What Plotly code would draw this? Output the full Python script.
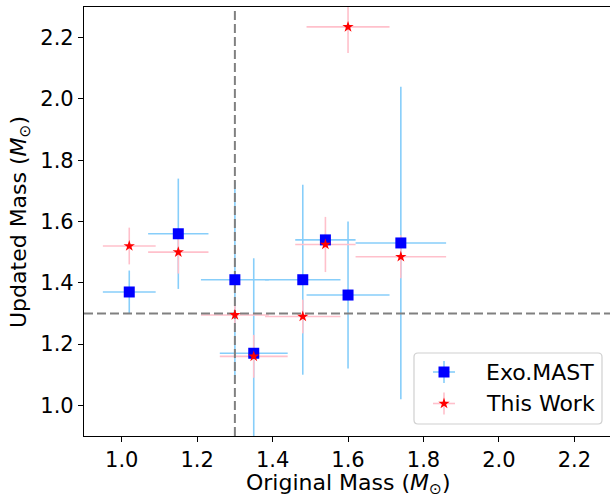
import plotly.graph_objects as go

# ---- data ----
orig_mass = [1.02, 1.15, 1.30, 1.35, 1.48, 1.54, 1.60, 1.74]
orig_mass_err = [0.07, 0.08, 0.09, 0.09, 0.10, 0.08, 0.11, 0.12]
exomast_mass = [1.37, 1.56, 1.41, 1.17, 1.41, 1.54, 1.36, 1.53]
exomast_err = [0.07, 0.18, 0.32, 0.31, 0.31, 0.02, 0.24, 0.51]
thiswork_mass = [1.52, 1.50, 1.295, 1.16, 1.29, 1.525, 2.235, 1.485]
thiswork_err = [0.06, 0.07, 0.04, 0.07, 0.055, 0.09, 0.085, 0.07]
mass_cut = 1.3
x_range = [0.9, 2.2945]
y_range = [0.9, 2.3]
tick_vals = [1.0, 1.2, 1.4, 1.6, 1.8, 2.0, 2.2]
tick_text = ["1.0", "1.2", "1.4", "1.6", "1.8", "2.0", "2.2"]

W, H = 610, 496
L, R, T, B = 84, 610, 7, 436
FONT = "DejaVu Sans"
FS = 22
TICK_FS = 21
BLUE_ERR = "#87CEFA"
PINK_ERR = "#FFC0CB"
STAR_SIZE = 8.5
SQ_SIZE = 11


def pxp(px):
    return (px - L) / (R - L)


def pyp(py):
    return (B - py) / (B - T)


fig = go.Figure()

# error bars (drawn below dashed lines and markers)
fig.add_trace(go.Scatter(
    x=orig_mass, y=exomast_mass, mode="markers",
    marker=dict(color="rgba(0,0,0,0)", size=1),
    error_x=dict(type="data", array=orig_mass_err, color=BLUE_ERR, thickness=1.6, width=0),
    error_y=dict(type="data", array=exomast_err, color=BLUE_ERR, thickness=1.6, width=0),
    showlegend=False, hoverinfo="skip"))
fig.add_trace(go.Scatter(
    x=orig_mass, y=thiswork_mass, mode="markers",
    marker=dict(color="rgba(0,0,0,0)", size=1),
    error_x=dict(type="data", array=orig_mass_err, color=PINK_ERR, thickness=1.6, width=0),
    error_y=dict(type="data", array=thiswork_err, color=PINK_ERR, thickness=1.6, width=0),
    showlegend=False, hoverinfo="skip"))

# dashed reference lines
fig.add_trace(go.Scatter(x=[mass_cut, mass_cut], y=y_range, mode="lines",
                         line=dict(color="#808080", width=2, dash="9px,4px"),
                         showlegend=False, hoverinfo="skip"))
fig.add_trace(go.Scatter(x=x_range, y=[mass_cut, mass_cut], mode="lines",
                         line=dict(color="#808080", width=2, dash="9px,4px"),
                         showlegend=False, hoverinfo="skip"))

# markers
fig.add_trace(go.Scatter(x=orig_mass, y=exomast_mass, mode="markers",
                         marker=dict(symbol="square", color="#0000FF", size=SQ_SIZE, line=dict(width=0)),
                         name="Exo.MAST", showlegend=False))
fig.add_trace(go.Scatter(x=orig_mass, y=thiswork_mass, mode="markers",
                         marker=dict(symbol="star", color="#FF0000", size=STAR_SIZE, line=dict(width=0)),
                         name="This Work", showlegend=False))

# ---- custom legend on a pixel-scaled overlay axis ----
lx0, lx1, ly0, ly1, rad = 414, 602, 353, 424, 4
yy = lambda py: H - py
path = (f"M {lx0+rad},{yy(ly0)} L {lx1-rad},{yy(ly0)} Q {lx1},{yy(ly0)} {lx1},{yy(ly0+rad)} "
        f"L {lx1},{yy(ly1-rad)} Q {lx1},{yy(ly1)} {lx1-rad},{yy(ly1)} "
        f"L {lx0+rad},{yy(ly1)} Q {lx0},{yy(ly1)} {lx0},{yy(ly1-rad)} "
        f"L {lx0},{yy(ly0+rad)} Q {lx0},{yy(ly0)} {lx0+rad},{yy(ly0)} Z")
fig.add_shape(type="path", path=path, xref="x2", yref="y2",
              line=dict(color="#D0D0D0", width=1.2), fillcolor="rgba(255,255,255,0.8)",
              layer="below")

legend_items = [("Exo.MAST", 372, "square", "#0000FF", SQ_SIZE, BLUE_ERR),
                ("This Work", 403.5, "star", "#FF0000", STAR_SIZE, PINK_ERR)]
for label, py, sym, col, sz, ecol in legend_items:
    fig.add_trace(go.Scatter(
        x=[444], y=[yy(py)], xaxis="x2", yaxis="y2", mode="markers",
        marker=dict(symbol=sym, color=col, size=sz, line=dict(width=0)),
        error_x=dict(type="constant", value=11, color=ecol, thickness=1.6, width=0),
        error_y=dict(type="constant", value=11, color=ecol, thickness=1.6, width=0),
        showlegend=False, hoverinfo="skip"))
    fig.add_annotation(x=484, y=yy(py), xref="x2", yref="y2", text=label,
                       showarrow=False, xanchor="left", yanchor="middle",
                       font=dict(family=FONT, size=FS, color="black"))

# axis titles
fig.add_annotation(x=pxp(348), y=pyp(484), xref="paper", yref="paper",
                   text="Original Mass (<i>M</i><sub>⊙</sub>)", showarrow=False,
                   xanchor="center", yanchor="middle", height=20,
                   font=dict(family=FONT, size=FS, color="black"))
fig.add_annotation(x=pxp(20), y=pyp(222), xref="paper", yref="paper",
                   text="Updated Mass (<i>M</i><sub>⊙</sub>)", showarrow=False, textangle=-90,
                   xanchor="center", yanchor="middle", height=22,
                   font=dict(family=FONT, size=FS, color="black"))

axis_common = dict(showgrid=False, zeroline=False, ticks="outside", ticklen=5, tickwidth=1.2,
                   tickcolor="black", showline=True, linecolor="black", linewidth=1.2,
                   tickfont=dict(family=FONT, size=TICK_FS, color="black"),
                   tickvals=tick_vals, ticktext=tick_text)
fig.update_layout(
    width=W, height=H,
    margin=dict(l=L, r=W - R, t=T, b=H - B, pad=0),
    paper_bgcolor="white", plot_bgcolor="white",
    xaxis=dict(range=x_range, mirror=True, **axis_common),
    yaxis=dict(range=y_range, mirror=False, **axis_common),
    xaxis2=dict(range=[L, R], overlaying="x", visible=False, fixedrange=True),
    yaxis2=dict(range=[H - B, H - T], overlaying="y", visible=False, fixedrange=True),
    showlegend=False,
)

fig.write_html("out.html")
